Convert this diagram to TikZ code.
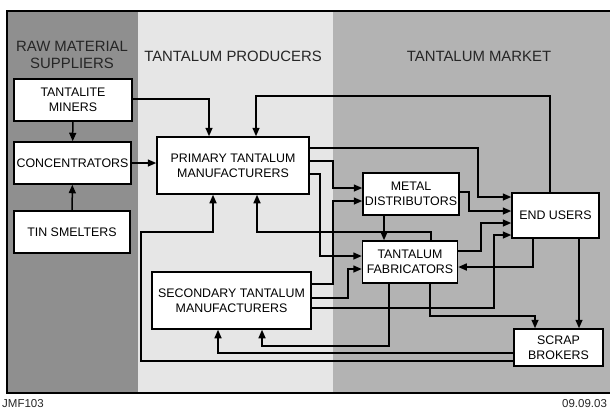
\documentclass[tikz,border=0pt]{standalone}
\usepackage{fontspec}
\setmainfont{Liberation Sans}
\usetikzlibrary{arrows.meta}
\definecolor{rawgray}{HTML}{8F8F8F}
\definecolor{prodgray}{HTML}{E6E6E6}
\definecolor{mktgray}{HTML}{B3B3B3}
\tikzset{
    unit/.style={draw,line width=1.5pt,fill=white,align=center,inner sep=1pt,
        font=\fontsize{12.4}{14.6}\selectfont},
    link/.style={draw,line width=1.5pt},
    flow/.style={link,-{Triangle[length=8.5pt,width=7pt]}},
    zone/.style={align=center,text=black!85,font=\fontsize{14.9}{17}\selectfont},
    foot/.style={anchor=west,inner sep=0pt,text=black!85,font=\fontsize{11.5}{13}\selectfont},
}

\begin{document}
\begin{tikzpicture}[x=1pt,y=-1pt]
    \useasboundingbox (0,0) rectangle (610,410);
    % three zones
    \fill[rawgray] (7,11) rectangle (138,393);
    \fill[prodgray] (138,11) rectangle (333,393);
    \fill[mktgray] (333,11) rectangle (612,393);
    \draw[line width=1.5pt] (7,11) rectangle (612,393);
    \node[zone] (rawhead) at (72,55) {RAW MATERIAL\\SUPPLIERS};
    \node[zone] (prodhead) at (233,56) {TANTALUM PRODUCERS};
    \node[zone] (mkthead) at (479,56) {TANTALUM MARKET};

    % boxes
    \node[unit,minimum width=118pt,minimum height=42pt] (miners) at (73,100) {TANTALITE\\MINERS};
    \node[unit,minimum width=117pt,minimum height=42pt] (conc) at (72.5,163) {CONCENTRATORS};
    \node[unit,minimum width=116pt,minimum height=42pt] (tin) at (72,232) {TIN SMELTERS};
    \node[unit,minimum width=152pt,minimum height=57pt] (prim) at (233,165.5) {PRIMARY TANTALUM\\MANUFACTURERS};
    \node[unit,minimum width=159pt,minimum height=57pt] (sec) at (231.5,300.5) {SECONDARY TANTALUM\\MANUFACTURERS};
    \node[unit,minimum width=96pt,minimum height=42pt] (metal) at (411,194) {METAL\\DISTRIBUTORS};
    \node[unit,minimum width=95pt,minimum height=42pt] (fab) at (410,262) {TANTALUM\\FABRICATORS};
    \node[unit,minimum width=87pt,minimum height=45pt] (end) at (555.5,215.5) {END USERS};
    \node[unit,minimum width=89pt,minimum height=37pt] (scrap) at (558.5,347.5) {SCRAP\\BROKERS};

    % raw material flows
    \draw[flow] (miners) -- (conc);
    \draw[flow] (tin) -- (conc);
    \draw[flow] (conc.east) -- (conc.east -| prim.west);
    \draw[flow] (miners.east |- 0,99) -| ([xshift=-24pt]prim.north);
    \draw[flow] ([xshift=-5.5pt]end.north) |- (256,96) -- ([xshift=23pt]prim.north);

    % producers to market
    \draw[flow] (prim.east |- 0,148) -| (478,197) -- (end.west |- 0,197);
    \draw[flow] (prim.east |- 0,161) -| (333,188) -- (metal.west |- 0,188);
    \draw[flow] (prim.east |- 0,174) -| (320,256) -- (fab.west |- 0,256);
    \draw[flow] (sec.east |- 0,284) -| (333,201) -- (metal.west |- 0,201);
    \draw[flow] (sec.east |- 0,298) -| (348,269) -- (fab.west |- 0,269);
    \draw[flow] (sec.east |- 0,308) -| (494,235) -- (end.west |- 0,235);

    % inside the market
    \draw[flow] (metal.east |- 0,192) -| (469,211) -- (end.west |- 0,211);
    \draw[flow] (fab.east |- 0,251) -| (481,223) -- (end.west |- 0,223);
    \draw[flow] (end.south -| 533,0) |- (fab.east |- 0,267);
    \draw[flow] (metal.south -| 384,0) -- (fab.north -| 384,0);
    \draw[flow] (fab.south -| 430,0) |- (535,316) -- (scrap.north -| 535,0);
    \draw[flow] (end.south -| 579,0) -- (scrap.north -| 579,0);

    % scrap back to producers
    \draw[flow] (fab.north -| 431,0) |- (257,232) -- (prim.south -| 257,0);
    \draw[flow] (scrap.west |- 0,361) -| (141,232) -| (prim.south -| 213,0);
    \draw[flow] (scrap.west |- 0,353) -| (sec.south -| 218,0);
    \draw[flow] (fab.south -| 389,0) |- (262,346) -- (sec.south -| 262,0);

    \node[foot] (jobno) at (2,404) {JMF103};
    \node[foot] (stamp) at (562,404) {09.09.03};
\end{tikzpicture}
\end{document}
